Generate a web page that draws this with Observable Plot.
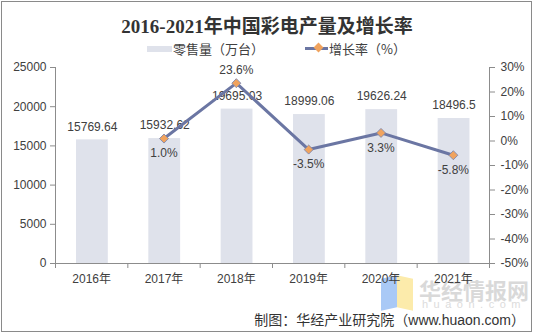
<!DOCTYPE html>
<html>
<head>
<meta charset="utf-8">
<script src="https://cdn.jsdelivr.net/npm/d3@7"></script>
<script src="https://cdn.jsdelivr.net/npm/@observablehq/plot@0.6"></script>
<style>
  body { margin: 0; background: #fff; }
  #wrap { position: relative; width: 534px; height: 334px; overflow: hidden; font-family: "Liberation Sans", Arial, "Noto Sans CJK SC", sans-serif; }
  #frame { position: absolute; left: 1px; top: 1px; width: 529px; height: 329px; border: 1px solid #8a8a8a; }
  #chart { position: absolute; left: 0; top: 0; }
  .abs { position: absolute; white-space: nowrap; }
  #title { left: 0; width: 534px; top: 11px; text-align: center; font: bold 19px "Liberation Serif", "Noto Sans CJK SC", serif; color: #333; }
  .leg { top: 39px; font: 13px "Noto Sans CJK SC", sans-serif; color: #404040; }
  #wm1 { left: 419px; top: 273px; font: bold 22px "Noto Sans CJK SC", sans-serif; color: #d9d9d9; letter-spacing: 0px; }
  #wm2 { left: 422px; top: 298px; font: 11px "Liberation Sans", sans-serif; color: #dcdcdc; letter-spacing: 5.5px; }
  #caption { right: 9px; top: 309px; font: 14px "Liberation Sans", "Noto Sans CJK SC", sans-serif; color: #333; }
</style>
</head>
<body>
<div id="wrap">
  <div id="frame"></div>
  <div class="abs" style="left:381px;top:277px;width:16px;height:32px;background:#a9c9f6;transform:skewY(-12deg);"></div>
  <div class="abs" style="left:397px;top:277px;width:16px;height:32px;background:#fcebab;transform:skewY(12deg);"></div>
  <div class="abs" id="wm1">华经情报网</div>
  <div class="abs" id="wm2">huaon.com</div>
  <div id="chart"></div>
  <div class="abs" id="title">2016-2021年中国彩电产量及增长率</div>
  <div class="abs leg" style="left:147px;top:46px;width:25px;height:6px;background:#dfe2eb;"></div>
  <div class="abs leg" style="left:173px;">零售量（万台）</div>
  <div class="abs leg" style="left:305px;top:47px;width:23px;height:3px;background:#6b76a3;"></div>
  <div class="abs leg" style="left:315px;top:44px;width:7px;height:7px;background:#f0a35e;transform:rotate(45deg);"></div>
  <div class="abs leg" style="left:329px;">增长率（%）</div>
  <div class="abs" id="caption">制图：华经产业研究院（www.huaon.com）</div>
</div>
<script>
const years = ["2016年", "2017年", "2018年", "2019年", "2020年", "2021年"];
const sales = [15769.64, 15932.62, 19695.03, 18999.06, 19626.24, 18496.5];
const growth = [null, 1.0, 23.6, -3.5, 3.3, -5.8];
const leftTicks = [0, 5000, 10000, 15000, 20000, 25000];
const rightTicks = [-50, -40, -30, -20, -10, 0, 10, 20, 30];

const yMax = 25000, gMin = -50, gMax = 30;
const toLeft = g => (g - gMin) / (gMax - gMin) * yMax;
const fromLeft = v => Math.round(v / yMax * (gMax - gMin) + gMin);

const barData = years.map((y, i) => ({i, year: y, sales: sales[i]}));
const lineData = years.map((y, i) => ({i, year: y, g: growth[i]})).filter(d => d.g != null);

const font = '"Liberation Sans", Arial, "Noto Sans CJK SC", sans-serif';

const chart = Plot.plot({
  width: 534,
  height: 334,
  marginLeft: 55,
  marginRight: 45,
  marginTop: 67,
  marginBottom: 71,
  style: {fontFamily: font, fontSize: "12px", color: "#404040", background: "transparent"},
  x: {type: "linear", domain: [0, years.length], axis: null},
  y: {domain: [0, yMax], axis: null},
  marks: [
    Plot.rectY(barData, {x1: d => d.i + 0.29, x2: d => d.i + 0.73, y: "sales", fill: "#dfe2eb"}),
    Plot.ruleY([0], {stroke: "#8c8c8c"}),
    Plot.ruleX([0, years.length], {stroke: "#8c8c8c"}),
    Plot.axisY({anchor: "left", ticks: leftTicks, tickSize: 5, tickPadding: 4, stroke: "#8c8c8c", fill: "#404040", label: null, tickFormat: d => String(d)}),
    Plot.axisY({anchor: "right", ticks: rightTicks.map(toLeft), tickSize: 5, tickPadding: 6, stroke: "#8c8c8c", fill: "#404040", label: null, tickFormat: v => fromLeft(v) + "%"}),
    Plot.axisX({anchor: "bottom", ticks: d3.range(years.length + 1), tickSize: 5, stroke: "#8c8c8c", tickFormat: () => "", label: null}),
    Plot.axisX({anchor: "bottom", ticks: years.map((y, i) => i + 0.5), tickSize: 0, tickPadding: 11, fill: "#404040", tickFormat: v => years[Math.floor(v)], label: null}),
    Plot.text(barData, {x: d => d.i + 0.51, y: "sales", text: d => String(d.sales), dy: -13, fill: "#404040", fontSize: 12}),
    Plot.line(lineData, {x: d => d.i + 0.5, y: d => toLeft(d.g), stroke: "#6b76a3", strokeWidth: 3}),
    Plot.dot(lineData, {x: d => d.i + 0.5, y: d => toLeft(d.g), symbol: "square", rotate: 45, r: 3.6, fill: "#f0a35e", stroke: "#7a84ad", strokeWidth: 0.8}),
    Plot.text(lineData.filter(d => d.g > 10), {x: d => d.i + 0.5, y: d => toLeft(d.g), text: d => d.g.toFixed(1) + "%", dy: -13, fill: "#404040", fontSize: 12}),
    Plot.text(lineData.filter(d => d.g <= 10), {x: d => d.i + 0.5, y: d => toLeft(d.g), text: d => d.g.toFixed(1) + "%", dy: 15, fill: "#404040", fontSize: 12})
  ]
});
document.getElementById("chart").appendChild(chart);
</script>
</body>
</html>
